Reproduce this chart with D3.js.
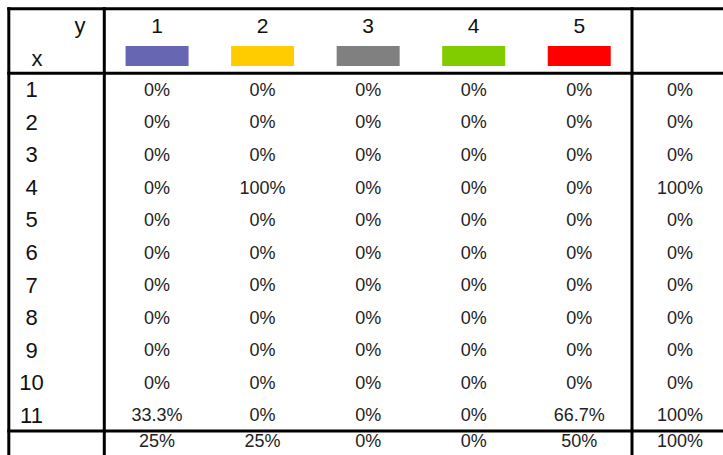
<!DOCTYPE html>
<html>
<head>
<meta charset="utf-8">
<script src="https://cdn.jsdelivr.net/npm/d3@7/dist/d3.min.js"></script>
<style>
  html, body { margin: 0; padding: 0; background: #fff; overflow: hidden; }
  svg { display: block; font-family: "Liberation Sans", Arial, sans-serif; }
</style>
</head>
<body>
<svg id="chart" width="723" height="455"></svg>
<script>
// column categories (y) and their legend colours
var seriesNames = ["1", "2", "3", "4", "5"];
var seriesColors = ["#6666b3", "#ffcc00", "#808080", "#80cc00", "#ff0000"];

// row categories (x)
var rowLabels = ["1", "2", "3", "4", "5", "6", "7", "8", "9", "10", "11"];

// percentage in each cell, one array per row
var cellValues = [
    [0, 0, 0, 0, 0],
    [0, 0, 0, 0, 0],
    [0, 0, 0, 0, 0],
    [0, 100, 0, 0, 0],
    [0, 0, 0, 0, 0],
    [0, 0, 0, 0, 0],
    [0, 0, 0, 0, 0],
    [0, 0, 0, 0, 0],
    [0, 0, 0, 0, 0],
    [0, 0, 0, 0, 0],
    [33.3, 0, 0, 0, 66.7]
];
var rowTotals = [0, 0, 0, 100, 0, 0, 0, 0, 0, 0, 100];
var colTotals = [25, 25, 0, 0, 50];
var grandTotal = 100;

var svg = d3.select("#chart");

var tableLeft = 8.8, tableTop = 8.8,
    dataLeft = 104.3, dataRight = 632,
    totalColW = 96,
    headerBottom = 73.2,
    bodyBottom = 431,
    footerBottom = 463;

var x = d3.scaleBand()
    .domain(seriesNames)
    .range([dataLeft, dataRight]);

var y = d3.scaleBand()
    .domain(rowLabels)
    .range([headerBottom, bodyBottom]);

var fmt = function (v) {
    return (Math.round(v * 10) / 10) + "%";
};

var totalX = dataRight + totalColW / 2;
var rowLabelX = 31.5;

// header
var header = svg.append("g").attr("class", "header");

header.append("text")
    .attr("x", 80).attr("y", 33)
    .attr("text-anchor", "middle")
    .attr("font-size", 22)
    .attr("fill", "#111")
    .text("y");

header.append("text")
    .attr("x", 37).attr("y", 66)
    .attr("text-anchor", "middle")
    .attr("font-size", 22)
    .attr("fill", "#111")
    .text("x");

header.selectAll("text.series")
    .data(seriesNames)
    .enter()
    .append("text")
    .attr("class", "series")
    .attr("x", function (d) { return x(d) + x.bandwidth() / 2; })
    .attr("y", 33)
    .attr("text-anchor", "middle")
    .attr("font-size", 21)
    .attr("fill", "#111")
    .text(function (d) { return d; });

header.selectAll("rect.swatch")
    .data(seriesNames)
    .enter()
    .append("rect")
    .attr("class", "swatch")
    .attr("x", function (d) { return x(d) + x.bandwidth() / 2 - 31.5; })
    .attr("y", 46)
    .attr("width", 63)
    .attr("height", 20)
    .attr("fill", function (d, i) { return seriesColors[i]; });

// body rows
var rows = svg.selectAll("g.row")
    .data(rowLabels)
    .enter()
    .append("g")
    .attr("class", "row")
    .attr("transform", function (d) {
        return "translate(0," + (y(d) + y.bandwidth() / 2) + ")";
    });

rows.append("text")
    .attr("x", rowLabelX)
    .attr("y", 0)
    .attr("dy", "0.36em")
    .attr("text-anchor", "middle")
    .attr("font-size", 22)
    .attr("fill", "#111")
    .text(function (d) { return d; });

rows.selectAll("text.cell")
    .data(function (d, i) { return cellValues[i]; })
    .enter()
    .append("text")
    .attr("class", "cell")
    .attr("x", function (d, j) { return x(seriesNames[j]) + x.bandwidth() / 2; })
    .attr("y", 0)
    .attr("dy", "0.36em")
    .attr("text-anchor", "middle")
    .attr("font-size", 18)
    .attr("fill", "#222")
    .text(fmt);

rows.append("text")
    .attr("class", "rowtotal")
    .attr("x", totalX)
    .attr("y", 0)
    .attr("dy", "0.36em")
    .attr("text-anchor", "middle")
    .attr("font-size", 18)
    .attr("fill", "#222")
    .text(function (d, i) { return fmt(rowTotals[i]); });

// footer
var footerY = 441;
var footer = svg.append("g").attr("class", "footer");

footer.selectAll("text.coltotal")
    .data(colTotals)
    .enter()
    .append("text")
    .attr("class", "coltotal")
    .attr("x", function (d, j) { return x(seriesNames[j]) + x.bandwidth() / 2; })
    .attr("y", footerY)
    .attr("dy", "0.36em")
    .attr("text-anchor", "middle")
    .attr("font-size", 18)
    .attr("fill", "#222")
    .text(fmt);

footer.append("text")
    .attr("x", totalX)
    .attr("y", footerY)
    .attr("dy", "0.36em")
    .attr("text-anchor", "middle")
    .attr("font-size", 18)
    .attr("fill", "#222")
    .text(fmt(grandTotal));

// grid lines
var grid = svg.append("g")
    .attr("stroke", "#000")
    .attr("stroke-width", 3)
    .attr("fill", "none");

var tableRight = dataRight + totalColW;
[tableTop, headerBottom, bodyBottom].forEach(function (yy) {
    grid.append("line")
        .attr("x1", tableLeft - 1.5).attr("x2", tableRight)
        .attr("y1", yy).attr("y2", yy);
});
[tableLeft, dataLeft, dataRight, tableRight].forEach(function (xx) {
    grid.append("line")
        .attr("x1", xx).attr("x2", xx)
        .attr("y1", tableTop - 1.5).attr("y2", footerBottom);
});
</script>
</body>
</html>
